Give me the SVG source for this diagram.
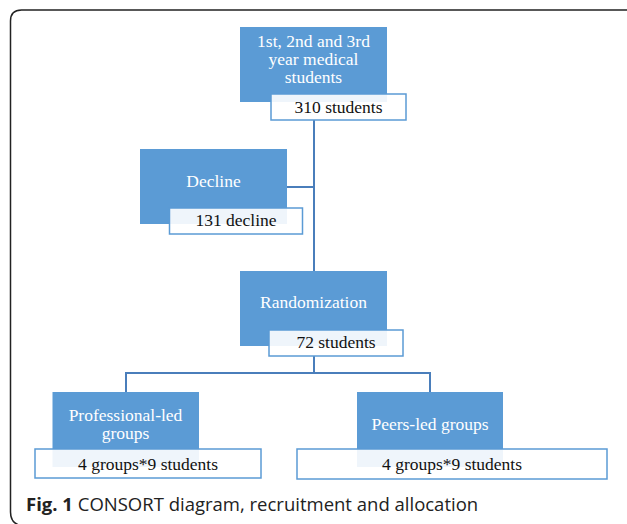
<svg xmlns="http://www.w3.org/2000/svg" width="627" height="524" viewBox="0 0 627 524">
  <style>
    .box { fill: #5b9bd5; }
    .count { fill: #ffffff; fill-opacity: 0.9; stroke: #5b9bd5; stroke-width: 1.5; }
    .lbl { font-family: "Liberation Serif", "Times New Roman", serif; font-size: 17.5px; text-anchor: middle; }
    .lbl-w { fill: #ffffff; }
    .lbl-k { fill: #111111; }
    .conn { fill: none; stroke: #4a7ebb; stroke-width: 2; }
    .cap { font-family: "Open Sans", "Noto Sans", sans-serif; font-size: 18.5px; fill: #222222; }
  </style>

  <rect width="627" height="524" fill="#ffffff"/>
  <!-- figure frame, rounded at the left corners -->
  <path d="M24,526 Q10.5,525 10.5,512 V21 Q10.5,10 21.5,10 H640" fill="none" stroke="#222222" stroke-width="1.5"/>

  <!-- connectors -->
  <g id="connectors">
    <path class="conn" d="M314,120 V271"/>
    <path class="conn" d="M287,187 H314"/>
    <path class="conn" d="M314,356 V373 M126,392 V373 H430 V392"/>
  </g>

  <g id="node-population">
    <rect class="box" x="240" y="27" width="147" height="75"/>
    <text class="lbl lbl-w" x="313.5" y="47">1st, 2nd and 3rd</text>
    <text class="lbl lbl-w" x="313.5" y="65">year medical</text>
    <text class="lbl lbl-w" x="313.5" y="83">students</text>
    <rect class="count" x="271" y="94" width="135" height="26"/>
    <text class="lbl lbl-k" x="338.5" y="113">310 students</text>
  </g>

  <g id="node-decline">
    <rect class="box" x="140" y="149" width="147" height="75"/>
    <text class="lbl lbl-w" x="213.5" y="187">Decline</text>
    <rect class="count" x="169.5" y="208" width="133" height="26"/>
    <text class="lbl lbl-k" x="236" y="226">131 decline</text>
  </g>

  <g id="node-randomization">
    <rect class="box" x="240" y="271" width="147" height="75"/>
    <text class="lbl lbl-w" x="313.5" y="308">Randomization</text>
    <rect class="count" x="269" y="330" width="134" height="26"/>
    <text class="lbl lbl-k" x="336" y="348">72 students</text>
  </g>

  <g id="node-professional">
    <rect class="box" x="52.5" y="392" width="146.5" height="75"/>
    <text class="lbl lbl-w" x="125.5" y="421">Professional-led</text>
    <text class="lbl lbl-w" x="125.5" y="439">groups</text>
    <rect class="count" x="35" y="449" width="226" height="29"/>
    <text class="lbl lbl-k" x="148" y="470">4 groups*9 students</text>
  </g>

  <g id="node-peers">
    <rect class="box" x="357" y="392" width="146" height="75"/>
    <text class="lbl lbl-w" x="430" y="430">Peers-led groups</text>
    <rect class="count" x="297" y="449" width="310" height="30"/>
    <text class="lbl lbl-k" x="452" y="470">4 groups*9 students</text>
  </g>

  <text class="cap" x="26" y="511"><tspan font-weight="bold">Fig. 1</tspan> CONSORT diagram, recruitment and allocation</text>
</svg>
